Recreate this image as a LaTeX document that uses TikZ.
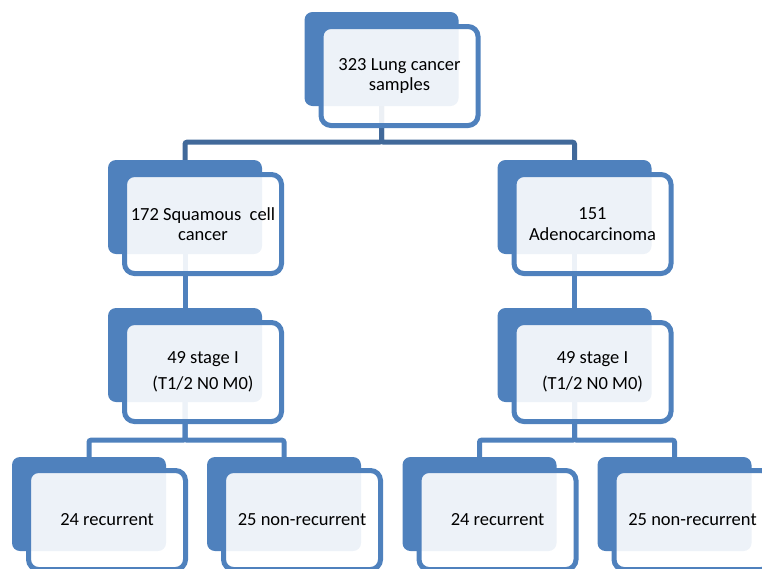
\documentclass[tikz,border=0pt]{standalone}
\usepackage{fontspec}
\setmainfont{Carlito}
\usetikzlibrary{positioning}
\definecolor{boxblue}{HTML}{4F81BD}
\definecolor{topblue}{HTML}{41699A}

\tikzset{
  backbox/.style={fill=boxblue, rounded corners=8pt, minimum width=154pt, minimum height=94pt, inner sep=0pt},
  frontbox/.style={draw=boxblue, line width=5pt, fill=white, fill opacity=0.9, text opacity=1, rounded corners=10pt,
    minimum width=157pt, minimum height=99pt, inner sep=0pt, align=center, font=\fontsize{18.5}{20.5}\selectfont},
  link/.style={draw=boxblue, line width=5pt, rounded corners=2pt},
  toplink/.style={link, draw=topblue},
}

\begin{document}
\begin{tikzpicture}[x=1pt, y=-1pt]
\useasboundingbox (0,0) rectangle (762,568);
\clip (0,0) rectangle (762,568);
% back boxes
\node[backbox] (lungb) at (381.5,59) {};
\node[backbox] (sqb) at (185,207) {};
\node[backbox] (adb) at (574.5,207) {};
\node[backbox] (stsqb) at (185,355) {};
\node[backbox] (stadb) at (574.5,355) {};
\node[backbox] (rsqb) at (89,504) {};
\node[backbox] (nsqb) at (284,504) {};
\node[backbox] (radb) at (479.5,504) {};
\node[backbox] (nadb) at (674.5,504) {};
% connectors
\draw[toplink] (lungb.south) -- ++(0,36) -| (sqb.north);
\draw[toplink] (lungb.south) -- ++(0,36) -| (adb.north);
\draw[link] (sqb.south) -- (stsqb.north);
\draw[link] (adb.south) -- (stadb.north);
\draw[link] (stsqb.south) -- ++(0,38) -| (rsqb.north);
\draw[link] (stsqb.south) -- ++(0,38) -| (nsqb.north);
\draw[link] (stadb.south) -- ++(0,38) -| (radb.north);
\draw[link] (stadb.south) -- ++(0,38) -| (nadb.north);
% front boxes
\node[frontbox] (lung) at ([shift={(18,17)}]lungb.center) {323 Lung cancer\\samples};
\node[frontbox] (sq) at ([shift={(18,17)}]sqb.center) {172 Squamous\ \ cell\\cancer};
\node[frontbox] (ad) at ([shift={(18,17)}]adb.center) {151\\Adenocarcinoma};
\node[frontbox] (stsq) at ([shift={(18,17)}]stsqb.center) {49 stage I\\[5pt](T1/2 N0 M0)};
\node[frontbox] (stad) at ([shift={(18,17)}]stadb.center) {49 stage I\\[5pt](T1/2 N0 M0)};
\node[frontbox] (rsq) at ([shift={(18,16)}]rsqb.center) {24 recurrent};
\node[frontbox] (nsq) at ([shift={(18,16)}]nsqb.center) {25 non-recurrent};
\node[frontbox] (rad) at ([shift={(18,16)}]radb.center) {24 recurrent};
\node[frontbox] (nad) at ([shift={(18,16)}]nadb.center) {25 non-recurrent};
\end{tikzpicture}
\end{document}
